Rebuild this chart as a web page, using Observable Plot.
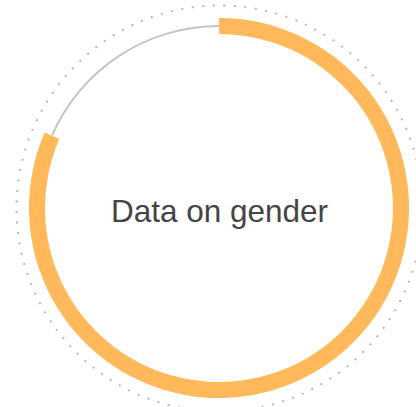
<!DOCTYPE html>
<html>
<head>
<meta charset="utf-8">
<script src="https://cdn.jsdelivr.net/npm/d3@7"></script>
<script src="https://cdn.jsdelivr.net/npm/@observablehq/plot@0.6"></script>
<style>
  html, body { margin: 0; padding: 0; background: #fff; }
  #chart svg { display: block; }
</style>
</head>
<body>
<div id="chart"></div>
<script>
// Data
const categories = ["With data on gender", "Without data on gender"];
const values = [81.5, 18.5];
const centerLabel = "Data on gender";

const slices = d3.pie().sort(null).value(d => d.value)(
  categories.map((c, i) => ({category: c, value: values[i]}))
);

const W = 416, H = 407;
const ringR = 182, ringW = 16, thinW = 2, dottedR = 203;
const colors = ["#ffb85a", "#c4c4c4"];

function ringMark(index, scales) {
  const cx = scales.x(0), cy = scales.y(0);
  const g = d3.create("svg:g").attr("transform", `translate(${cx},${cy})`);
  slices.forEach((s, i) => {
    const w = i === 0 ? ringW : thinW;
    const arc = d3.arc().innerRadius(ringR - w / 2).outerRadius(ringR + w / 2);
    g.append("path").attr("d", arc(s)).attr("fill", colors[i]);
  });
  return g.node();
}

const chart = Plot.plot({
  width: W,
  height: H,
  margin: 0,
  x: {domain: [-219, 197], axis: null},
  y: {domain: [-199, 208], axis: null},
  style: {background: "#fff"},
  marks: [
    Plot.dot([0], {x: 0, y: 0, r: dottedR, fill: "none", stroke: "#b8b8b8",
      strokeWidth: 2, strokeDasharray: "2,8.55"}),
    ringMark,
    Plot.text([centerLabel], {x: 0, y: 0, text: d => d, fontSize: 31.5,
      fontFamily: "Liberation Sans, Arial, sans-serif", fill: "#444", textAnchor: "middle", dy: 3})
  ]
});
document.getElementById("chart").appendChild(chart);
</script>
</body>
</html>
